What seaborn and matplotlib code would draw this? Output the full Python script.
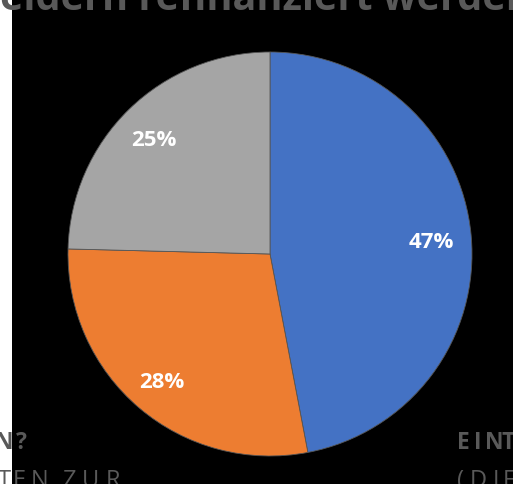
import matplotlib
matplotlib.use("Agg")
import matplotlib.pyplot as plt
import seaborn as sns
from matplotlib.patches import Rectangle

# Slice values (percent)
categories = ["Blau", "Orange", "Grau"]
shares = [47.0, 28.4, 24.6]
slice_colors = ["#4472C4", "#ED7D31", "#A5A5A5"]

title_text = "eldern refinanziert werden"

# cropped, letter-spaced slide text at the bottom: (char, left x in px)
bl_line1 = [("N", -5), ("?", 16)]
bl_line2 = [("T", -2), ("E", 13), ("N", 31), ("Z", 62), ("U", 82), ("R", 106)]
br_line1 = [("E", 457), ("I", 474), ("N", 485), ("T", 502)]
br_line2 = [("(", 457), ("D", 470), ("I", 493), ("F", 503)]

sns.set_theme(style="white")
plt.rcParams["font.family"] = ["Open Sans", "DejaVu Sans"]

W, H = 513, 484
fig = plt.figure(figsize=(W / 100, H / 100), dpi=100, facecolor="black")

# white strip on the left edge
fig.patches.append(Rectangle((0, 0), 12 / W, 1, transform=fig.transFigure,
                             facecolor="white", edgecolor="none", zorder=0))

cx, cy, r = 270, 254, 202
ax = fig.add_axes([(cx - r) / W, (H - cy - r) / H, 2 * r / W, 2 * r / H])
ax.set_facecolor("black")

palette = sns.color_palette(slice_colors)
wedges, texts, autotexts = ax.pie(
    shares, colors=palette, startangle=90, counterclock=False,
    autopct="%.0f%%", pctdistance=0.81, radius=1,
    wedgeprops=dict(linewidth=0.6, edgecolor="#555555"),
    textprops=dict(color="white", fontsize=16, fontweight="bold"),
)
for t in autotexts:
    x, y = t.get_position()
    t.set_position((x - 0.01, y - 0.02))
ax.set_xlim(-1, 1)
ax.set_ylim(-1, 1)
ax.set_aspect("equal")
ax.axis("off")

# cropped title from the slide above the chart
fig.text(0, 1 - 10.5 / H, title_text, color="#595959", fontsize=28.5,
         fontweight="bold", ha="left", va="baseline")


def spaced(chars, baseline, weight, size):
    for ch, x in chars:
        fig.text(x / W, 1 - baseline / H, ch, color="#595959", fontsize=size,
                 fontweight=weight, ha="left", va="baseline")


spaced(bl_line1, 449, "bold", 16.5)
spaced(bl_line2, 487, "normal", 17)
spaced(br_line1, 449, "bold", 16.5)
spaced(br_line2, 487, "normal", 17)

fig.savefig("out.png", dpi=100, facecolor="black")
